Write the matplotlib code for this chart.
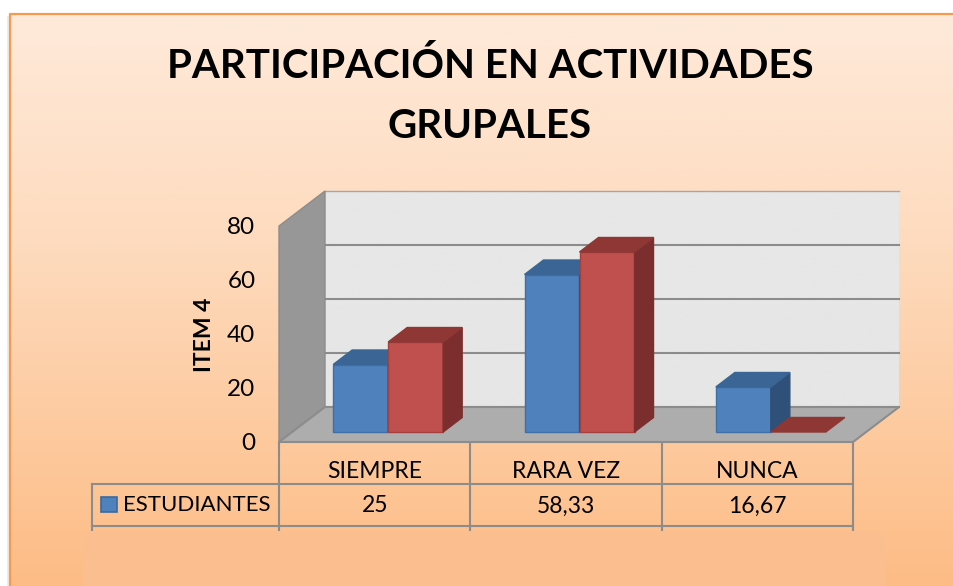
import matplotlib
matplotlib.use("Agg")
import matplotlib.pyplot as plt
import numpy as np
from matplotlib.patches import Polygon, Rectangle, FancyBboxPatch

plt.rcParams['font.family'] = ['Lato', 'DejaVu Sans']

categories = ["SIEMPRE", "RARA VEZ", "NUNCA"]
estudiantes = [25, 58.33, 16.67]
otros = [33.33, 66.67, 0]
tabla = ["25", "58,33", "16,67"]
yticks = [0, 20, 40, 60, 80]

W, H = 954, 586
fig = plt.figure(figsize=(W / 100, H / 100), dpi=100)

# background and table, in pixels
bg = fig.add_axes([0, 0, 1, 1])
bg.set_xlim(0, W)
bg.set_ylim(H, 0)
bg.axis("off")

top = np.array([254, 234, 218]) / 255
mid = np.array([254, 219, 190]) / 255
bot = np.array([253, 188, 133]) / 255
t = np.linspace(0, 1, 300)[:, None]
grad = np.where(t < 0.4, top + (mid - top) * t / 0.4, mid + (bot - mid) * (t - 0.4) / 0.6)
bg.imshow(grad[:, None, :], extent=[10, W, H, 14], aspect="auto", zorder=1)
bg.set_xlim(0, W)
bg.set_ylim(H, 0)
bg.add_patch(Rectangle((7, 16), 3, H, color="#ececec", lw=0, zorder=0))
bg.plot([10, 10, W], [H, 14, 14], color="#F79A4E", lw=1.6, zorder=2)

# table lines
lc = "#8C8C8C"
for yy in [484, 526]:
    bg.plot([92, 853], [yy, yy], color=lc, lw=1.5, zorder=3)
for xx in [279, 470.5, 662, 853]:
    bg.plot([xx, xx], [442, 530], color=lc, lw=1.5, zorder=3)
bg.plot([92, 92], [484, 530], color=lc, lw=1.5, zorder=3)

bg.add_patch(FancyBboxPatch((83, 531), 802, 70, boxstyle="round,pad=0,rounding_size=6",
                            fc="#FBBF90", ec="none", alpha=0.9, zorder=4))

bg.add_patch(Rectangle((101, 497), 16, 15, fc="#4F81BD", ec="#3A6A9F", lw=1.2, zorder=5))
bg.text(197, 505, "ESTUDIANTES", ha="center", va="center", fontsize=16, color="black", zorder=5)
for xx, lab in zip([374.7, 566.3, 757.8], tabla):
    bg.text(xx, 506, lab, ha="center", va="center", fontsize=16.5, color="black", zorder=5)

bg.text(490, 66, "PARTICIPACIÓN EN ACTIVIDADES", ha="center", va="center",
        fontsize=29, fontweight="bold", color="black", zorder=5)
bg.text(490, 126, "GRUPALES", ha="center", va="center",
        fontsize=29, fontweight="bold", color="black", zorder=5)
bg.text(205, 335, "ITEM 4", ha="center", va="center", rotation=90,
        fontsize=16.5, fontweight="bold", color="black", zorder=5)

# chart, front plane mapped on data coordinates
x0, x1, y0, y80 = 279, 853, 442, 226
ax = fig.add_axes([x0 / W, 1 - y0 / H, (x1 - x0) / W, (y0 - y80) / H])
ax.patch.set_alpha(0)
ax.set_xlim(0, 3)
ax.set_ylim(0, 80)
for s in ax.spines.values():
    s.set_visible(False)

px = 3 / (x1 - x0)
py = 80 / (y0 - y80)
dx, dy = 46 * px, 35 * py


def poly(pts, fc, ec=None, lw=1.0, z=2):
    ax.add_patch(Polygon(pts, closed=True, fc=fc, ec=ec if ec else fc, lw=lw, zorder=z, clip_on=False))


# walls
poly([(0, 0), (dx, dy), (dx, 80 + dy), (0, 80)], "#979797", "#8C8C8C")
poly([(0, 0), (3, 0), (3 + dx, dy), (dx, dy)], "#ADADAD", "#8C8C8C", 1.5)
ax.imshow(np.linspace(0.905, 0.9, 100)[:, None], cmap="gray", vmin=0, vmax=1,
          extent=[dx, 3 + dx, dy, 80 + dy], aspect="auto", zorder=1, clip_on=False)
ax.set_xlim(0, 3)
ax.set_ylim(0, 80)
for v in yticks[:-1]:
    ax.plot([dx, 3 + dx], [v + dy, v + dy], color="#8C8C8C", lw=1.5, zorder=1.5, clip_on=False)
ax.plot([dx, 3 + dx], [80 + dy, 80 + dy], color="#A6A6A6", lw=1, zorder=1.5, clip_on=False)


def bar3d(xl, v, w, front, side, cap, edge):
    ox, oy = 13.5 * px, 10 * py
    ddx, ddy = 19 * px, 14.5 * py
    l, r, b = xl + ox, xl + w + ox, oy
    tp = b + v
    if v > 0:
        ax.bar(l, v, width=w, bottom=b, align="edge", fc=front, ec=edge, lw=1.0, zorder=3, clip_on=False)
        poly([(r, b), (r + ddx, b + ddy), (r + ddx, tp + ddy), (r, tp)], side, side, z=3)
    poly([(l, tp), (r, tp), (r + ddx, tp + ddy), (l + ddx, tp + ddy)], cap, cap, z=3)


w = 55 * px
for i in range(3):
    c = i + 0.5
    bar3d(c - w, estudiantes[i], w, "#4F81BD", "#2F5078", "#3B6594", "#3E6FA6")
    bar3d(c, otros[i], w, "#C0504D", "#7B2E2D", "#8E3735", "#A4403D")

ax.set_yticks(yticks)
ax.set_xticks([0.5, 1.5, 2.5])
ax.set_xticklabels(categories, fontsize=16.5)
ax.set_yticklabels([str(v) for v in yticks], fontsize=17.5)
ax.tick_params(axis="y", length=0, pad=17)
ax.tick_params(axis="x", length=0, pad=14)

fig.savefig("out.png", dpi=100)
